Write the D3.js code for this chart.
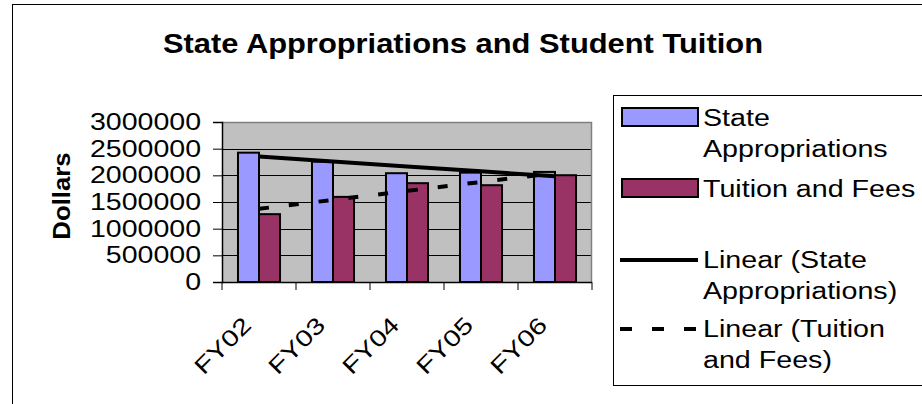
<!DOCTYPE html>
<html>
<head>
<meta charset="utf-8">
<script src="https://cdn.jsdelivr.net/npm/d3@7"></script>
<style>
  html, body { margin: 0; padding: 0; background: #ffffff; }
  svg { display: block; }
  text { font-family: "Liberation Sans", Arial, sans-serif; fill: #000; }
</style>
</head>
<body>
<svg id="chart" width="922" height="404"></svg>
<script>
// Fiscal years on the category axis
const categories = ["FY02", "FY03", "FY04", "FY05", "FY06"];
// Dollar amounts per year
const stateAppropriations = [2425000, 2257000, 2040000, 2051000, 2064000];
const tuitionAndFees      = [1272000, 1596000, 1853000, 1815000, 2002000];
// Value axis ticks
const yTicks = [0, 500000, 1000000, 1500000, 2000000, 2500000, 3000000];
const seriesNames = ["State Appropriations", "Tuition and Fees"];
const seriesColors = ["#9999FF", "#993366"];

const svg = d3.select("#chart");

// Plot area
const plot = { left: 222, right: 592, top: 122, bottom: 282 };

// Stretch a text element horizontally along its baseline by a factor
function stretch(sel, factor) {
  sel.each(function () {
    const len = this.getComputedTextLength();
    d3.select(this).attr("textLength", len * factor).attr("lengthAdjust", "spacingAndGlyphs");
  });
}

// Outer chart frame (continues past the right and bottom edges)
svg.append("rect")
  .attr("x", 12.5).attr("y", 4.5)
  .attr("width", 1000).attr("height", 600)
  .attr("fill", "#fff").attr("stroke", "#000").attr("stroke-width", 1);

// Title
svg.append("text")
  .attr("x", 463).attr("y", 53)
  .attr("text-anchor", "middle")
  .attr("font-size", 28).attr("font-weight", "bold")
  .attr("textLength", 600).attr("lengthAdjust", "spacingAndGlyphs")
  .text("State Appropriations and Student Tuition");

// Scales
const x0 = d3.scaleBand().domain(categories).range([plot.left, plot.right]).padding(0);
const x1 = d3.scaleBand().domain(seriesNames).range([0, x0.bandwidth()]).paddingInner(0).paddingOuter(0.76);
const y = d3.scaleLinear().domain([0, 3000000]).range([plot.bottom, plot.top]);

// Plot background
svg.append("rect")
  .attr("x", plot.left).attr("y", plot.top)
  .attr("width", plot.right - plot.left).attr("height", plot.bottom - plot.top)
  .attr("fill", "#C0C0C0");

// Horizontal gridlines
svg.append("g").selectAll("line")
  .data(yTicks.filter(v => v > 0 && v < 3000000))
  .join("line")
  .attr("x1", plot.left).attr("x2", plot.right)
  .attr("y1", d => Math.round(y(d)) + 0.5).attr("y2", d => Math.round(y(d)) + 0.5)
  .attr("stroke", "#000").attr("stroke-width", 1);

// Plot border (top and right)
svg.append("path")
  .attr("d", `M${plot.left},${plot.top + 0.5}H${plot.right - 0.5}V${plot.bottom}`)
  .attr("fill", "none").attr("stroke", "#808080").attr("stroke-width", 1.5);

// Bars
const rows = categories.map((c, i) => ({ cat: c, values: [stateAppropriations[i], tuitionAndFees[i]] }));
const groups = svg.append("g").selectAll("g")
  .data(rows).join("g")
  .attr("transform", d => `translate(${x0(d.cat)},0)`);
groups.selectAll("rect")
  .data(d => d.values.map((v, k) => ({ name: seriesNames[k], value: v, color: seriesColors[k] })))
  .join("rect")
  .attr("x", d => x1(d.name))
  .attr("y", d => y(d.value))
  .attr("width", x1.bandwidth())
  .attr("height", d => y(0) - y(d.value))
  .attr("fill", d => d.color)
  .attr("stroke", "#000").attr("stroke-width", 2);

// Linear (least-squares) trend lines
function linearFit(vals) {
  const xs = vals.map((_, i) => i + 1);
  const mx = d3.mean(xs), my = d3.mean(vals);
  const slope = d3.sum(xs, (xv, i) => (xv - mx) * (vals[i] - my)) / d3.sum(xs, xv => (xv - mx) ** 2);
  const icpt = my - slope * mx;
  return xs.map(xv => icpt + slope * xv);
}
const trendLine = d3.line()
  .x((d, i) => x0(categories[i]) + x0.bandwidth() / 2)
  .y(d => y(d));
svg.append("path")
  .datum(linearFit(stateAppropriations))
  .attr("d", trendLine)
  .attr("fill", "none").attr("stroke", "#000").attr("stroke-width", 4);
svg.append("path")
  .datum(linearFit(tuitionAndFees))
  .attr("d", trendLine)
  .attr("fill", "none").attr("stroke", "#000").attr("stroke-width", 4)
  .attr("stroke-dasharray", "10,20");

// Value axis
const yAxis = svg.append("g")
  .attr("transform", `translate(${plot.left},0)`)
  .call(d3.axisLeft(y).tickValues(yTicks).tickFormat(d3.format("d")).tickSize(9).tickPadding(12));
yAxis.select(".domain").attr("stroke", "#000").attr("stroke-width", 1.5);
yAxis.selectAll(".tick line").attr("stroke", "#000");
yAxis.selectAll(".tick text")
  .attr("font-size", 23).attr("font-family", "Liberation Sans, Arial, sans-serif")
  .call(stretch, 1.24);

// Category axis
svg.append("line")
  .attr("x1", plot.left).attr("x2", plot.right)
  .attr("y1", plot.bottom + 0.5).attr("y2", plot.bottom + 0.5)
  .attr("stroke", "#000").attr("stroke-width", 1.5);
const boundaries = categories.map(c => x0(c)).concat([x0(categories[categories.length - 1]) + x0.bandwidth()]);
svg.append("g").selectAll("line")
  .data(boundaries).join("line")
  .attr("x1", d => d).attr("x2", d => d)
  .attr("y1", plot.bottom).attr("y2", plot.bottom + 8)
  .attr("stroke", "#000").attr("stroke-width", 1);
svg.append("g").selectAll("text")
  .data(categories).join("text")
  .attr("transform", c => `translate(${x0(c) + x0.bandwidth() / 2 - 18},${plot.bottom + 33}) rotate(-45)`)
  .attr("text-anchor", "end")
  .attr("dy", "0.72em")
  .attr("font-size", 23)
  .text(c => c)
  .call(stretch, 1.26);

// Value axis title
svg.append("text")
  .attr("transform", `translate(70,196) rotate(-90)`)
  .attr("text-anchor", "middle")
  .attr("font-size", 23).attr("font-weight", "bold")
  .text("Dollars")
  .call(stretch, 1.12);

// Legend
const legend = svg.append("g");
legend.append("rect")
  .attr("x", 613.5).attr("y", 95.5).attr("width", 400).attr("height", 290)
  .attr("fill", "#fff").attr("stroke", "#000").attr("stroke-width", 1);

const legendItems = [
  { type: "bar", color: seriesColors[0], lines: ["State", "Appropriations"], baseline: 126 },
  { type: "bar", color: seriesColors[1], lines: ["Tuition and Fees"], baseline: 197 },
  { type: "solid", lines: ["Linear (State", "Appropriations)"], baseline: 268 },
  { type: "dash", lines: ["Linear (Tuition", "and Fees)"], baseline: 337 }
];
const lineGap = 31;
legendItems.forEach(item => {
  const g = legend.append("g");
  if (item.type === "bar") {
    g.append("rect")
      .attr("x", 622).attr("y", item.baseline - 18).attr("width", 76).attr("height", 18)
      .attr("fill", item.color).attr("stroke", "#000").attr("stroke-width", 2);
  } else {
    g.append("line")
      .attr("x1", 620).attr("x2", 698)
      .attr("y1", item.baseline - 8).attr("y2", item.baseline - 8)
      .attr("stroke", "#000").attr("stroke-width", 4)
      .attr("stroke-dasharray", item.type === "dash" ? "12,20" : null);
  }
  g.selectAll("text")
    .data(item.lines).join("text")
    .attr("x", 703)
    .attr("y", (d, i) => item.baseline + i * lineGap)
    .attr("font-size", 23)
    .text(d => d)
    .call(stretch, 1.245);
});
</script>
</body>
</html>
